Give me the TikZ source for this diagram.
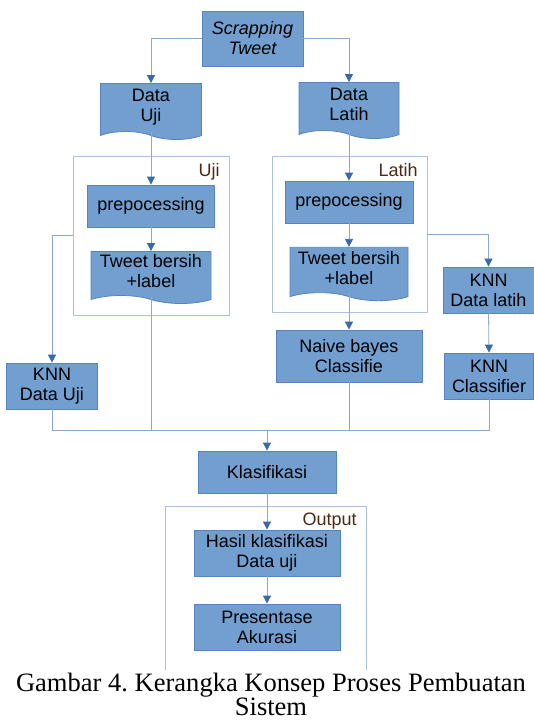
\documentclass[tikz,border=0pt]{standalone}
\usepackage{fontspec}
\setmainfont{Liberation Serif}
\setsansfont{Liberation Sans}
\usepackage{tikz}
\usetikzlibrary{arrows.meta, shapes.symbols}
\frenchspacing

\definecolor{boxfill}{HTML}{729FCF}
\definecolor{boxline}{HTML}{5584C0}
\definecolor{wire}{HTML}{89A9D3}
\definecolor{tipcol}{HTML}{3A69A8}
\definecolor{framecol}{HTML}{A9C2DF}
\definecolor{tagcol}{HTML}{4B2A14}

% text of a document shape sits a little above the middle
\newcommand{\doctext}[1]{\raisebox{2.5pt}{\begin{tabular}{@{}c@{}}#1\end{tabular}}}

\tikzset{
  procbox/.style 2 args={draw=boxline, fill=boxfill, line width=0.6pt, inner sep=0pt,
    minimum width=#1, minimum height=#2, align=center,
    font=\sffamily\fontsize{13.5}{15}\selectfont},
  docbox/.style 2 args={procbox={#1}{#2}, tape, tape bend top=none,
    tape bend bottom=out and in, tape bend height=6pt},
  groupbox/.style 2 args={draw=framecol, line width=0.6pt, minimum width=#1, minimum height=#2},
  grouptag/.style={text=tagcol, inner sep=0pt, anchor=base east,
    font=\sffamily\fontsize{13.5}{15}\selectfont},
  wireline/.style={draw=wire, line width=0.6pt},
  wirearrow/.style={wireline, -{Triangle[length=6pt, width=6pt, color=tipcol]}}
}

\begin{document}
\begin{tikzpicture}[x=0.75pt, y=-0.75pt]
    \useasboundingbox (0,0) rectangle (533,724);

    % frames for the two data branches
    \node[groupbox={117pt}{119.25pt}] (boxUji) at (151,235.5) {};
    \node[groupbox={116.25pt}{117pt}] (boxLatih) at (349.5,234) {};
    \node[grouptag] (tagUji) at (220,176) {Uji};
    \node[grouptag] (tagLatih) at (418,176) {Latih};

    \node[procbox={75.75pt}{41.25pt}] (scrap) at (252.5,38.5) {\itshape Scrapping\\\itshape Tweet};
    \node[docbox={75.75pt}{42pt}] (dUji) at (151,107.5) {\doctext{Data\\Uji}};
    \node[docbox={75pt}{42pt}] (dLatih) at (349,106.5) {\doctext{Data\\Latih}};

    \node[procbox={95.25pt}{31.5pt}] (preUji) at (151,206) {prepocessing};
    \node[docbox={90pt}{39pt}] (twUji) at (151,273.5) {\doctext{Tweet bersih\\+label}};
    \node[procbox={96pt}{31.5pt}] (preLatih) at (349,202) {prepocessing};
    \node[docbox={88.5pt}{40pt}] (twLatih) at (349,270) {\doctext{Tweet bersih\\+label}};

    \node[procbox={68.25pt}{34.5pt}] (knnUji) at (52,386) {KNN\\Data Uji};
    \node[procbox={68.25pt}{34.5pt}] (knnLatih) at (488.5,290) {KNN\\Data latih};
    \node[procbox={66.75pt}{34.5pt}] (knnCls) at (489,376) {KNN\\Classifier};
    \node[procbox={109.5pt}{39pt}] (nb) at (349,356) {Naive bayes\\Classifie};

    \coordinate (join) at (267,430);
    \node[procbox={103.5pt}{31.5pt}] (klas) at (267,472) {Klasifikasi};

    % output frame, open at the bottom
    \draw[draw=framecol, line width=0.6pt] (165,669.5) |- (366,506) -- (366,669.5);
    \node[grouptag] (tagOut) at (357,525) {Output};
    \node[procbox={109.5pt}{34.5pt}] (hasil) at (267,553) {Hasil klasifikasi\\Data uji};
    \node[procbox={109.5pt}{34.5pt}] (pres) at (267,627) {Presentase\\Akurasi};

    \draw[wirearrow] (scrap.west) -| (dUji.north);
    \draw[wirearrow] (scrap.east) -| (dLatih.north);
    \draw[wirearrow] (dUji.south) -- (preUji.north);
    \draw[wirearrow] (dLatih.south) -- (preLatih.north);
    \draw[wirearrow] (preUji.south) -- (twUji.north);
    \draw[wirearrow] (preLatih.south) -- (twLatih.north);
    \draw[wirearrow] (boxUji.west) -| (knnUji.north);
    \draw[wirearrow] (boxLatih.east) -| (knnLatih.north);
    \draw[wirearrow] (twLatih.south) -- (nb.north);
    \draw[wirearrow] (knnLatih.south) -- (knnCls.north);

    \draw[wireline] (twUji.south) |- (join);
    \draw[wireline] (knnUji.south) |- (join);
    \draw[wireline] (nb.south) |- (join);
    \draw[wireline] (knnCls.south) |- (join);
    \draw[wirearrow] (join) -- (klas.north);
    \draw[wirearrow] (klas.south) -- (hasil.north);
    \draw[wirearrow] (hasil.south) -- (pres.north);

    \node[align=center, inner sep=0pt, anchor=base, font=\fontsize{19.9}{18}\selectfont]
        (caption) at (271,715) {Gambar 4. Kerangka Konsep Proses Pembuatan\\Sistem};
\end{tikzpicture}
\end{document}
